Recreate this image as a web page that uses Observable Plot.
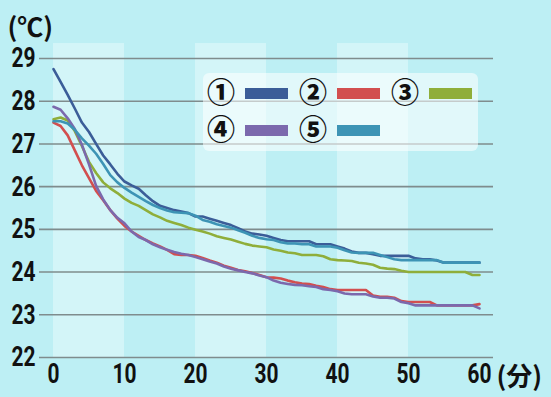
<!DOCTYPE html>
<html>
<head>
<meta charset="utf-8">
<script src="https://cdn.jsdelivr.net/npm/d3@7"></script>
<script src="https://cdn.jsdelivr.net/npm/@observablehq/plot@0.6"></script>
<style>
  html, body { margin: 0; padding: 0; background: #bdeff4; }
  #wrap { position: relative; width: 551px; height: 397px; overflow: hidden; }
  #legend { position: absolute; left: 203px; top: 73px; width: 275px; height: 78px;
            background: rgba(255,255,255,0.55); border-radius: 6px; }
  .num { position: absolute; width: 30px; text-align: center;
         font-family: 'Noto Sans CJK JP', 'DejaVu Sans', sans-serif;
         font-weight: 900; font-size: 28px; line-height: 28px; color: #111; }
  .sw { position: absolute; width: 43px; height: 11px; }
</style>
</head>
<body>
<div id="wrap"><div id="legend"></div></div>
<script>
// Series labels and colours
const seriesNames = ["①", "②", "③", "④", "⑤"];
const seriesColors = ["#3b5d98", "#d24f4f", "#8fae3a", "#7b69ad", "#3d94b5"];

// Temperature (℃) read every minute, 0–60 min
const s1 = [28.75,28.45,28.15,27.83,27.5,27.28,27.0,26.73,26.52,26.3,26.12,26.03,25.95,25.8,25.66,25.55,25.5,25.45,25.42,25.38,25.3,25.3,25.25,25.2,25.15,25.1,25.03,24.95,24.9,24.88,24.85,24.8,24.75,24.72,24.72,24.72,24.72,24.65,24.65,24.65,24.6,24.55,24.48,24.45,24.45,24.42,24.38,24.38,24.38,24.38,24.38,24.32,24.3,24.3,24.27,24.22,24.22,24.22,24.22,24.22,24.22];
const s2 = [27.5,27.42,27.2,26.85,26.5,26.2,25.9,25.68,25.45,25.25,25.08,24.95,24.85,24.75,24.67,24.6,24.52,24.42,24.4,24.4,24.38,24.33,24.27,24.22,24.15,24.1,24.05,24.02,23.98,23.93,23.88,23.87,23.85,23.8,23.76,23.73,23.72,23.68,23.65,23.6,23.58,23.58,23.58,23.58,23.58,23.45,23.42,23.42,23.4,23.32,23.3,23.3,23.3,23.3,23.22,23.22,23.22,23.22,23.22,23.22,23.25];
const s3 = [27.58,27.62,27.55,27.3,26.95,26.58,26.32,26.1,25.96,25.85,25.72,25.62,25.55,25.45,25.35,25.28,25.2,25.15,25.1,25.04,24.99,24.95,24.9,24.84,24.8,24.76,24.71,24.66,24.62,24.6,24.58,24.53,24.5,24.46,24.44,24.4,24.4,24.4,24.37,24.3,24.28,24.27,24.26,24.22,24.2,24.17,24.1,24.08,24.07,24.03,24.0,24.0,24.0,24.0,24.0,24.0,24.0,24.0,24.0,23.93,23.93];
const s4 = [27.87,27.8,27.6,27.35,26.98,26.52,26.02,25.7,25.45,25.27,25.14,24.95,24.82,24.75,24.65,24.58,24.52,24.47,24.43,24.4,24.35,24.3,24.25,24.2,24.13,24.08,24.04,24.0,23.97,23.92,23.88,23.8,23.75,23.72,23.7,23.69,23.67,23.65,23.6,23.58,23.55,23.5,23.48,23.48,23.48,23.43,23.4,23.4,23.38,23.3,23.27,23.22,23.22,23.22,23.22,23.22,23.22,23.22,23.22,23.22,23.15];
const s5 = [27.53,27.53,27.48,27.33,27.13,26.96,26.77,26.53,26.27,26.1,25.97,25.86,25.76,25.66,25.57,25.5,25.44,25.4,25.39,25.38,25.32,25.22,25.18,25.12,25.08,25.04,24.98,24.92,24.85,24.8,24.77,24.75,24.7,24.67,24.67,24.65,24.65,24.6,24.6,24.6,24.57,24.51,24.46,24.45,24.45,24.45,24.4,24.35,24.3,24.28,24.28,24.28,24.28,24.28,24.28,24.22,24.22,24.22,24.22,24.22,24.22];

// Axis ticks
const xTicks = [0, 10, 20, 30, 40, 50, 60];
const yTicks = [22, 23, 24, 25, 26, 27, 28, 29];
// Shaded time bands
const bandStarts = [0, 20, 40];
const bandEnds = [10, 30, 50];

const allSeries = [s1, s2, s3, s4, s5];
const table = [];
allSeries.forEach((vals, i) => {
  vals.forEach((v, t) => table.push({t, v, s: seriesNames[i]}));
});
const bands = bandStarts.map((a, i) => ({a, b: bandEnds[i]}));

const numFont = "Roboto, 'Liberation Sans', sans-serif";
const chart = Plot.plot({
  width: 551,
  height: 397,
  marginTop: 58,
  marginBottom: 40,
  marginLeft: 53,
  marginRight: 72,
  x: {domain: [0, 60]},
  y: {domain: [22, 29]},
  color: {domain: seriesNames, range: seriesColors},
  style: {background: "#bdeff4", fontFamily: numFont, overflow: "visible"},
  marks: [
    Plot.rect(bands, {x1: "a", x2: "b", y1: 22, y2: 29.35, fill: "#d3f5f8"}),
    Plot.ruleY(yTicks, {stroke: "#7f8c8d", strokeWidth: 1.6, insetLeft: -14, insetRight: -14}),
    Plot.axisY({ticks: yTicks, tickFormat: d => String(d), tickSize: 0, tickPadding: 18, fontSize: 28, fontWeight: "bold", fill: "#111", label: null, fontFamily: numFont}),
    Plot.axisX({ticks: xTicks, tickFormat: d => String(d), tickSize: 0, tickPadding: 6, fontSize: 28, fontWeight: "bold", fill: "#111", label: null, fontFamily: numFont}),
    Plot.line(table, {x: "t", y: "v", z: "s", stroke: "s", strokeWidth: 2.6, strokeLinejoin: "round"}),
    Plot.text(["(分)"], {x: xTicks[xTicks.length - 1], y: yTicks[0], text: d => d, dx: 17, dy: 20, textAnchor: "start",
      fontSize: 26, fontWeight: "bold", fill: "#111", fontFamily: "'Noto Sans CJK JP', sans-serif"}),
    Plot.text(["(℃)"], {frameAnchor: "top-left", text: d => d, dx: -46, dy: -40, textAnchor: "start",
      fontSize: 26, fontWeight: "bold", fill: "#111", fontFamily: "'Noto Sans CJK JP', sans-serif"})
  ]
});
const wrap = document.getElementById("wrap");
wrap.insertBefore(chart, wrap.firstChild);

// condense the tick-label digits to mimic the narrow typeface
chart.querySelectorAll('g[aria-label$="tick label"] text').forEach(t => {
  const s = t.textContent;
  t.setAttribute("textLength", s.length * 12);
  t.setAttribute("lengthAdjust", "spacingAndGlyphs");
});

const legend = document.getElementById("legend");
seriesNames.forEach((name, i) => {
  const row = Math.floor(i / 3), col = i % 3;
  const n = document.createElement("div");
  n.className = "num";
  n.textContent = name;
  n.style.left = (3 + col * 92) + "px";
  n.style.top = (4 + row * 37) + "px";
  legend.appendChild(n);
  const sw = document.createElement("div");
  sw.className = "sw";
  sw.style.background = seriesColors[i];
  sw.style.left = (42 + col * 92) + "px";
  sw.style.top = (15 + row * 37) + "px";
  legend.appendChild(sw);
});
</script>
</body>
</html>
